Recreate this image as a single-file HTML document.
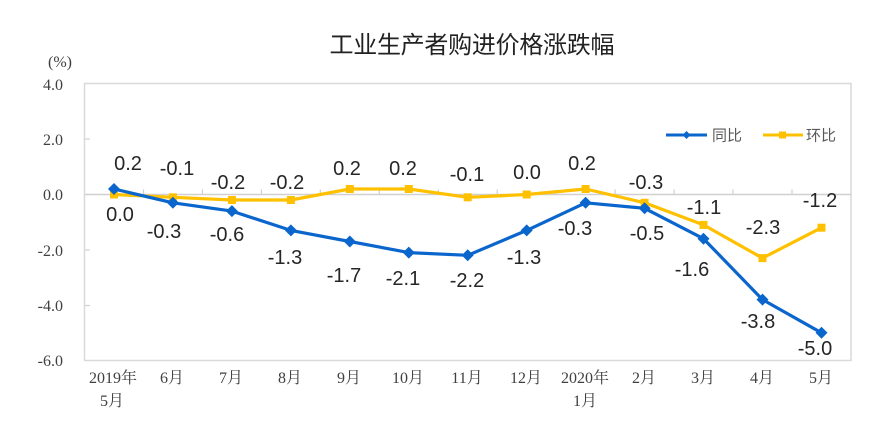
<!DOCTYPE html>
<html><head><meta charset="utf-8"><style>
html,body{margin:0;padding:0;background:#fff;}
svg{display:block;}
.t{font-family:"Noto Sans CJK SC",sans-serif;font-size:24px;fill:#222;letter-spacing:0px;}
.ax{font-family:"Liberation Serif","Noto Serif CJK SC",serif;font-size:16px;fill:#404040;}
.dl{font-family:"Liberation Sans",sans-serif;font-size:20px;fill:#262626;}
.lg{font-family:"Liberation Sans","Noto Sans CJK SC",sans-serif;font-size:15px;fill:#595959;}
</style></head><body>
<svg width="878" height="426" viewBox="0 0 878 426" xmlns="http://www.w3.org/2000/svg">
<rect width="878" height="426" fill="#fff"/>
<text class="t" x="472" y="53" text-anchor="middle" textLength="285" lengthAdjust="spacing">工业生产者购进价格涨跌幅</text>
<!-- plot border -->
<rect x="84.5" y="83.5" width="766.5" height="277" fill="none" stroke="#d9d9d9" stroke-width="1.5"/>
<!-- zero line -->
<line x1="84.5" y1="194.5" x2="851" y2="194.5" stroke="#d0d0d0" stroke-width="1.5"/>
<g stroke="#d0d0d0" stroke-width="1.2">
<line x1="143.5" y1="189.5" x2="143.5" y2="194.5"/>
<line x1="202.4" y1="189.5" x2="202.4" y2="194.5"/>
<line x1="261.4" y1="189.5" x2="261.4" y2="194.5"/>
<line x1="320.3" y1="189.5" x2="320.3" y2="194.5"/>
<line x1="379.3" y1="189.5" x2="379.3" y2="194.5"/>
<line x1="438.3" y1="189.5" x2="438.3" y2="194.5"/>
<line x1="497.2" y1="189.5" x2="497.2" y2="194.5"/>
<line x1="556.2" y1="189.5" x2="556.2" y2="194.5"/>
<line x1="615.1" y1="189.5" x2="615.1" y2="194.5"/>
<line x1="674.1" y1="189.5" x2="674.1" y2="194.5"/>
<line x1="733.0" y1="189.5" x2="733.0" y2="194.5"/>
<line x1="792.0" y1="189.5" x2="792.0" y2="194.5"/>
<line x1="84.5" y1="139" x2="90" y2="139"/>
<line x1="84.5" y1="250" x2="90" y2="250"/>
<line x1="84.5" y1="305.5" x2="90" y2="305.5"/>
</g>
<!-- y labels -->
<g class="ax" text-anchor="end">
<text x="72" y="67">(%)</text>
<text x="63" y="90">4.0</text>
<text x="63" y="145">2.0</text>
<text x="63" y="200">0.0</text>
<text x="63" y="256">-2.0</text>
<text x="63" y="311">-4.0</text>
<text x="63" y="366">-6.0</text>
</g>
<!-- x labels -->
<g class="ax" text-anchor="middle">
<text x="113" y="383">2019年</text>
<text x="112" y="406">5月</text>
<text x="172" y="383">6月</text>
<text x="231" y="383">7月</text>
<text x="290" y="383">8月</text>
<text x="349" y="383">9月</text>
<text x="408" y="383">10月</text>
<text x="467" y="383">11月</text>
<text x="526" y="383">12月</text>
<text x="585" y="383">2020年</text>
<text x="585" y="406">1月</text>
<text x="644" y="383">2月</text>
<text x="703" y="383">3月</text>
<text x="762" y="383">4月</text>
<text x="821" y="383">5月</text>
</g>
<!-- yellow series 环比 -->
<polyline fill="none" stroke="#FFC000" stroke-width="3.2" stroke-linejoin="round"
points="114,194.5 172.9,197.3 231.9,200 290.9,200 349.8,189 408.8,189 467.7,197.3 526.7,194.5 585.6,189 644.6,202.8 703.5,224.9 762.5,258.1 821.5,227.7"/>
<g fill="#FFC000">
<rect x="110" y="190.5" width="8" height="8"/>
<rect x="168.9" y="193.3" width="8" height="8"/>
<rect x="227.9" y="196" width="8" height="8"/>
<rect x="286.9" y="196" width="8" height="8"/>
<rect x="345.8" y="185" width="8" height="8"/>
<rect x="404.8" y="185" width="8" height="8"/>
<rect x="463.7" y="193.3" width="8" height="8"/>
<rect x="522.7" y="190.5" width="8" height="8"/>
<rect x="581.6" y="185" width="8" height="8"/>
<rect x="640.6" y="198.8" width="8" height="8"/>
<rect x="699.5" y="220.9" width="8" height="8"/>
<rect x="758.5" y="254.1" width="8" height="8"/>
<rect x="817.5" y="223.7" width="8" height="8"/>
</g>
<!-- blue series 同比 -->
<polyline fill="none" stroke="#0A66CC" stroke-width="3.2" stroke-linejoin="round"
points="114,189 172.9,202.8 231.9,211.1 290.9,230.4 349.8,241.5 408.8,252.6 467.7,255.3 526.7,230.4 585.6,202.8 644.6,208.3 703.5,238.7 762.5,299.6 821.5,332.8"/>
<g fill="#0A66CC">
<path d="M114 183 l6 6 l-6 6 l-6 -6z"/>
<path d="M172.9 196.8 l6 6 l-6 6 l-6 -6z"/>
<path d="M231.9 205.1 l6 6 l-6 6 l-6 -6z"/>
<path d="M290.9 224.4 l6 6 l-6 6 l-6 -6z"/>
<path d="M349.8 235.5 l6 6 l-6 6 l-6 -6z"/>
<path d="M408.8 246.6 l6 6 l-6 6 l-6 -6z"/>
<path d="M467.7 249.3 l6 6 l-6 6 l-6 -6z"/>
<path d="M526.7 224.4 l6 6 l-6 6 l-6 -6z"/>
<path d="M585.6 196.8 l6 6 l-6 6 l-6 -6z"/>
<path d="M644.6 202.3 l6 6 l-6 6 l-6 -6z"/>
<path d="M703.5 232.7 l6 6 l-6 6 l-6 -6z"/>
<path d="M762.5 293.6 l6 6 l-6 6 l-6 -6z"/>
<path d="M821.5 326.8 l6 6 l-6 6 l-6 -6z"/>
</g>
<!-- data labels blue -->
<g class="dl" text-anchor="middle">
<text x="128" y="170">0.2</text>
<text x="164" y="238">-0.3</text>
<text x="227" y="241">-0.6</text>
<text x="285" y="264">-1.3</text>
<text x="344" y="282">-1.7</text>
<text x="403" y="285">-2.1</text>
<text x="467" y="287">-2.2</text>
<text x="524" y="264">-1.3</text>
<text x="575" y="235">-0.3</text>
<text x="647" y="240">-0.5</text>
<text x="692" y="276">-1.6</text>
<text x="758" y="328">-3.8</text>
<text x="815" y="355">-5.0</text>
</g>
<!-- data labels yellow -->
<g class="dl" text-anchor="middle">
<text x="120" y="221">0.0</text>
<text x="177" y="175">-0.1</text>
<text x="228" y="189">-0.2</text>
<text x="287" y="189">-0.2</text>
<text x="347" y="175">0.2</text>
<text x="403" y="175">0.2</text>
<text x="467" y="181">-0.1</text>
<text x="527" y="179">0.0</text>
<text x="582" y="170">0.2</text>
<text x="646" y="189">-0.3</text>
<text x="704" y="214">-1.1</text>
<text x="763" y="234">-2.3</text>
<text x="820" y="207">-1.2</text>
</g>
<!-- legend -->
<line x1="666" y1="135" x2="707" y2="135" stroke="#0A66CC" stroke-width="3"/>
<path d="M686.5 131 l4 4 l-4 4 l-4 -4z" fill="#0A66CC"/>
<text class="lg" x="712" y="140.5">同比</text>
<line x1="763" y1="135" x2="803" y2="135" stroke="#FFC000" stroke-width="3"/>
<rect x="779" y="131.5" width="7" height="7" fill="#FFC000"/>
<text class="lg" x="806" y="140.5">环比</text>
</svg>
</body></html>
